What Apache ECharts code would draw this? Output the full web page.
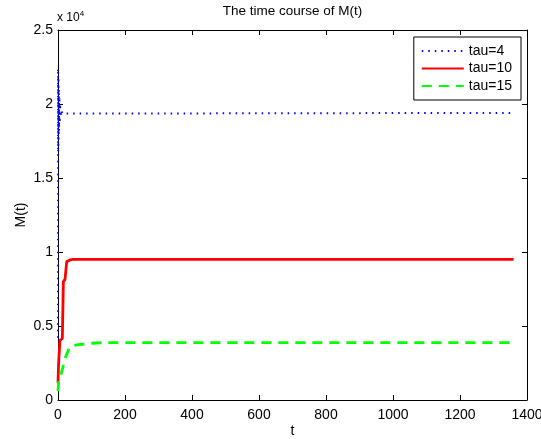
<!DOCTYPE html>
<html>
<head>
<meta charset="utf-8">
<script src="https://cdn.jsdelivr.net/npm/echarts@6/dist/echarts.min.js"></script>
<style>html,body{margin:0;padding:0;background:#fff;}#c{width:541px;height:439px;}</style>
</head>
<body>
<div id="c"></div>
<script>
// Data
const seriesNames = ['tau=4', 'tau=10', 'tau=15'];
const tau4T = [0, 0.3, 0.8, 1.3, 1.8, 2.5, 3.2, 4, 5, 6, 8, 10, 13, 17, 1360];
const tau4M = [4200, 22400, 16800, 21800, 17600, 21000, 18200, 20500, 18700, 20000, 19100, 19600, 19350, 19400, 19400];
const tau10T = [0, 2, 6, 13, 16, 21, 26, 36, 45, 1360];
const tau10M = [1150, 2600, 4050, 4150, 8000, 8150, 9350, 9460, 9500, 9500];
const tau15T = [0, 2, 6, 11, 21, 26, 36, 56, 95, 130, 1360];
const tau15M = [600, 1300, 1500, 1900, 2800, 3100, 3600, 3720, 3830, 3870, 3870];
const xTicks = [0, 200, 400, 600, 800, 1000, 1200, 1400];
const yTickLabels = ['0', '0.5', '1', '1.5', '2', '2.5'];

const pair = (t, m) => t.map((v, i) => [v, m[i]]);
const font = 'Liberation Sans, Arial, Helvetica, sans-serif';
const chart = echarts.init(document.getElementById('c'));
const tick = () => ({show: true, inside: true, length: 5, lineStyle: {color: '#000', width: 1}});
const line = () => ({show: true, onZero: false, lineStyle: {color: '#000', width: 1}});
chart.setOption({
  animation: false,
  backgroundColor: '#fff',
  graphic: [{
    type: 'text', x: 292.5, y: 11,
    style: {
      text: 'The time course of M(t)', align: 'center', verticalAlign: 'middle',
      fontFamily: font, fontSize: 13.5, fill: '#000'
    }
  }, {
    type: 'text', left: 57, top: 10,
    style: {
      text: '{a|x 10}{b|4}',
      rich: {
        a: {fontFamily: font, fontSize: 12, fill: '#000'},
        b: {fontFamily: font, fontSize: 8, fill: '#000', verticalAlign: 'top', padding: [0, 0, 8, 0]}
      }
    }
  }],
  legend: {
    orient: 'vertical', right: 20, top: 37,
    backgroundColor: '#fff', borderColor: '#000', borderWidth: 1,
    padding: [7, 9, 7, 7], itemGap: 3.5, itemWidth: 42, itemHeight: 14,
    itemStyle: {opacity: 0},
    textStyle: {fontFamily: font, fontSize: 14, color: '#000'},
    data: seriesNames
  },
  grid: {left: 58, right: 14, top: 30, bottom: 39, containLabel: false, outerBoundsMode: 'none'},
  xAxis: [{
    type: 'value', min: 0, max: 1400, interval: 200,
    name: 't', nameLocation: 'middle', nameGap: 24, nameMoveOverlap: false,
    nameTextStyle: {fontFamily: font, fontSize: 14, color: '#000'},
    axisLine: line(), axisTick: tick(),
    axisLabel: {fontFamily: font, fontSize: 14, color: '#000', margin: 8,
      formatter: v => xTicks.includes(v) ? String(v) : ''},
    splitLine: {show: false}
  }, {
    type: 'value', min: 0, max: 1400, interval: 200, position: 'top',
    axisLine: line(), axisTick: tick(), axisLabel: {show: false}, splitLine: {show: false}
  }],
  yAxis: [{
    type: 'value', min: 0, max: 25000, interval: 5000,
    name: 'M(t)', nameLocation: 'middle', nameGap: 30, nameRotate: 90, nameMoveOverlap: false,
    nameTextStyle: {fontFamily: font, fontSize: 14, color: '#000'},
    axisLine: line(), axisTick: tick(),
    axisLabel: {fontFamily: font, fontSize: 14, color: '#000', margin: 5,
      formatter: v => yTickLabels[Math.round(v / 5000)]},
    splitLine: {show: false}
  }, {
    type: 'value', min: 0, max: 25000, interval: 5000, position: 'right',
    axisLine: line(), axisTick: tick(), axisLabel: {show: false}, splitLine: {show: false}
  }],
  series: [{
    name: seriesNames[0], type: 'line', data: pair(tau4T, tau4M), showSymbol: false, symbol: 'none',
    itemStyle: {color: '#0000ff'},
    lineStyle: {color: '#0000ff', width: 2, type: [1.5, 5]}, z: 3
  }, {
    name: seriesNames[1], type: 'line', data: pair(tau10T, tau10M), showSymbol: false, symbol: 'none',
    itemStyle: {color: '#ff0000'},
    lineStyle: {color: '#ff0000', width: 2.8, type: 'solid'}, z: 2
  }, {
    name: seriesNames[2], type: 'line', data: pair(tau15T, tau15M), showSymbol: false, symbol: 'none',
    itemStyle: {color: '#00ff00'},
    lineStyle: {color: '#00ff00', width: 2.8, type: [10, 7]}, z: 2
  }]
});
</script>
</body>
</html>
